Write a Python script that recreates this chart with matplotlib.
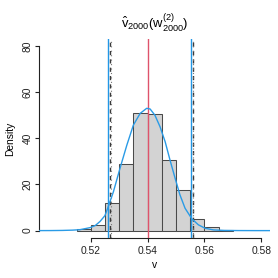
import matplotlib
matplotlib.use("Agg")
import matplotlib.pyplot as plt

# ---- data ----
bin_left = [0.515, 0.520, 0.525, 0.530, 0.535, 0.540, 0.545, 0.550, 0.555, 0.560, 0.565]
bin_height = [0.8, 2.3, 11.8, 28.9, 51.0, 50.4, 30.5, 17.5, 4.9, 1.6, 0.2]
bin_width = 0.005

curve_v = [0.500, 0.506, 0.510, 0.5135, 0.5162, 0.5198, 0.5216, 0.5233, 0.5250, 0.5262,
           0.5280, 0.5303, 0.5327, 0.5350, 0.5374, 0.5397, 0.5409, 0.5426, 0.5444, 0.5462,
           0.5479, 0.5497, 0.5514, 0.5532, 0.5556, 0.5579, 0.5603, 0.5632, 0.5670, 0.5720,
           0.5780, 0.5850]
curve_d = [0.0, 0.02, 0.08, 0.2, 0.4, 1.3, 2.2, 4.0, 6.5, 10.5,
           16.9, 27.0, 37.0, 45.7, 50.8, 53.0, 52.7, 50.0, 45.0, 38.5,
           30.6, 22.7, 15.5, 9.7, 5.1, 2.5, 1.0, 0.3, 0.08, 0.02,
           0.0, 0.0]

true_value = 0.540
blue_lines = [0.5260, 0.5554]
dashed_lines = [0.5269, 0.5559]
dotted_lines = [0.5272, 0.5561]

x_ticks = [0.52, 0.54, 0.56, 0.58]
x_tick_labels = ["0.52", "0.54", "0.56", "0.58"]
y_ticks = [0, 20, 40, 60, 80]

# ---- styling ----
plt.rcParams['font.family'] = ['Liberation Sans', 'DejaVu Sans']
plt.rcParams['mathtext.fontset'] = 'custom'
plt.rcParams['mathtext.rm'] = 'Liberation Sans'
plt.rcParams['mathtext.it'] = 'Liberation Sans'
plt.rcParams['mathtext.bf'] = 'Liberation Sans'

fig = plt.figure(figsize=(2.78, 2.78), dpi=100)
ax = fig.add_axes([0.1414, 0.1439, 0.9712 - 0.1414, 0.8586 - 0.1439])

ax.bar(bin_left, bin_height, width=bin_width, align='edge',
       color='#d3d3d3', edgecolor='#4a4a4a', linewidth=0.75, zorder=1)

for v in blue_lines:
    ax.axvline(v, color='#2297E6', lw=1.0, zorder=3)
for v in dashed_lines:
    ax.axvline(v, color='#3a3a3a', lw=1.0, ls=(0, (3, 3)), zorder=3)
for v in dotted_lines:
    ax.axvline(v, color='#777777', lw=0.8, ls=(0, (1, 3)), zorder=3)
ax.axvline(true_value, color='#DF536B', lw=1.0, zorder=3)

ax.plot(curve_v, curve_d, color='#2A9BE6', lw=1.0, zorder=4, solid_joinstyle='round')

ax.set_xlim(0.5019, 0.5831)
ax.set_ylim(-3.2, 82.9)

for s in ['top', 'right']:
    ax.spines[s].set_visible(False)
ax.spines['bottom'].set_bounds(0.52, 0.58)
ax.spines['left'].set_bounds(0, 80)
for s in ['bottom', 'left']:
    ax.spines[s].set_linewidth(0.8)
    ax.spines[s].set_color('#222222')

ax.set_xticks(x_ticks)
ax.set_xticklabels(x_tick_labels)
ax.set_yticks(y_ticks)
ax.set_yticklabels([str(t) for t in y_ticks], rotation=90, va='center')
ax.tick_params(axis='both', length=3, width=0.8, labelsize=7.4, colors='#222222', pad=2.6)
ax.tick_params(axis='y', pad=2.0)

ax.set_xlabel('v', fontsize=7.4, labelpad=3)
ax.set_ylabel('Density', fontsize=7.4, labelpad=5)
ax.set_title(r'$\hat{\mathrm{v}}_{2000}(\mathrm{w}^{(2)}_{2000})$', fontsize=9.4, pad=8)

fig.savefig('out.png', dpi=100)
